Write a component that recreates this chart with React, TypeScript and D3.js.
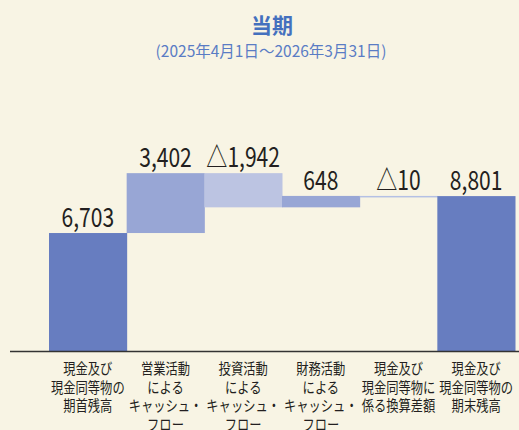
import React from "react";
import * as d3 from "d3";

const categories = [
  ["現金及び", "現金同等物の", "期首残高"],
  ["営業活動", "による", "キャッシュ・", "フロー"],
  ["投資活動", "による", "キャッシュ・", "フロー"],
  ["財務活動", "による", "キャッシュ・", "フロー"],
  ["現金及び", "現金同等物に", "係る換算差額"],
  ["現金及び", "現金同等物の", "期末残高"],
];
const values = [6703, 3402, -1942, 648, -10, 8801];
const kinds = ["total", "delta", "delta", "delta", "delta", "total"];
const valueLabels = ["6,703", "3,402", "△1,942", "648", "△10", "8,801"];
const colors = ["#677DC0", "#98A6D5", "#BCC4E2", "#98A6D5", "#B4C0E4", "#677DC0"];

const W = 519, H = 430;

export default function App() {
  const x = d3.scaleBand<number>().domain(d3.range(values.length)).range([49, 515]).padding(0);
  const y = d3.scaleLinear().domain([0, 10000]).range([351, 175]);

  let run = 0;
  const bars = values.map((v, i) => {
    let lo: number, hi: number;
    if (kinds[i] === "total") {
      lo = 0; hi = v; run = v;
    } else {
      const prev = run; run = run + v;
      lo = Math.min(prev, run); hi = Math.max(prev, run);
    }
    return { i, lo, hi };
  });

  const fontNum = "'Noto Sans CJK JP', 'Noto Sans', sans-serif";
  return (
    <svg width={W} height={H} style={{ position: "absolute", left: 0, top: 0, background: "#F8F4E4" }}>
      <rect x={0} y={0} width={W} height={H} fill="#F8F4E4" />
      <text x={272} y={33} textAnchor="middle" fontSize={21} fontWeight="bold" fill="#4470BE"
        fontFamily={fontNum}>当期</text>
      <text transform="translate(271,57) scale(1,1)" textAnchor="middle" fontSize={15.5} fill="#5A7CC4" fontFamily={fontNum}>
        (2025年4月1日～2026年3月31日)
      </text>
      {bars.map((b) => {
        const h = Math.max(y(b.lo) - y(b.hi), 1.5);
        return (
          <rect key={b.i} x={x(b.i)!} width={x.bandwidth() + 0.5} y={y(b.hi)} height={h} fill={colors[b.i]} />
        );
      })}
      <line x1={10} x2={519} y1={351.5} y2={351.5} stroke="#333" strokeWidth={1.5} />
      {bars.map((b) => {
        const cx = x(b.i)! + x.bandwidth() / 2;
        return (
          <text key={"v" + b.i} transform={`translate(${cx},${y(b.hi) - 6}) scale(0.78,1)`} textAnchor="middle"
            fontSize={27} fill="#231F20" fontFamily={fontNum}>{valueLabels[b.i]}</text>
        );
      })}
      {categories.map((lines, i) => {
        const cx = x(i)! + x.bandwidth() / 2;
        return lines.map((t, j) => (
          <text key={"c" + i + "-" + j} transform={`translate(${cx},${374 + j * 18.5}) scale(0.82,1)`}
            textAnchor="middle" fontSize={15} fill="#231F20" fontFamily={fontNum}>{t}</text>
        ));
      })}
    </svg>
  );
}
